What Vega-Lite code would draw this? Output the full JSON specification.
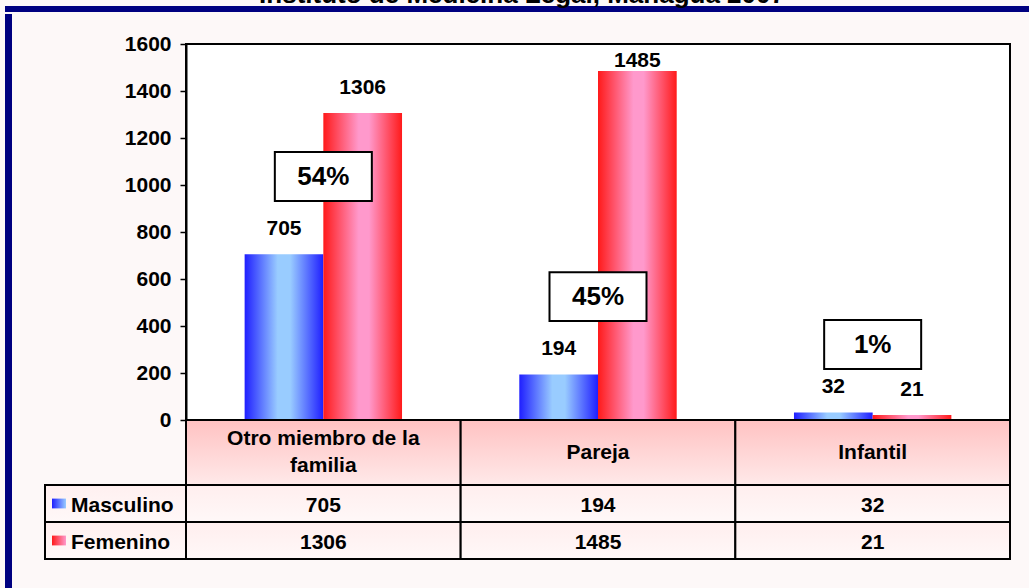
{
  "$schema": "https://vega.github.io/schema/vega-lite/v6.json",
  "background": "#fdf8f8",
  "padding": {"left": 5, "top": -18, "right": 0, "bottom": 0},
  "title": {"text": "Instituto de Medicina Legal, Managua 2007", "fontSize": 26, "fontWeight": "bold", "font": "Liberation Sans", "color": "black", "anchor": "middle", "frame": "bounds", "dx": 5, "offset": -5},
  "config": {"view": {"stroke": null}, "font": "Liberation Sans"},
  "datasets": {
    "datos": [
      {"categoria": "Otro miembro de la familia", "sexo": "Masculino", "valor": 705},
      {"categoria": "Otro miembro de la familia", "sexo": "Femenino", "valor": 1306},
      {"categoria": "Pareja", "sexo": "Masculino", "valor": 194},
      {"categoria": "Pareja", "sexo": "Femenino", "valor": 1485},
      {"categoria": "Infantil", "sexo": "Masculino", "valor": 32},
      {"categoria": "Infantil", "sexo": "Femenino", "valor": 21}
    ],
    "encabezados": [
      {"categoria": "Otro miembro de la familia", "encabezado": "Otro miembro de la\nfamilia", "lineas": 2},
      {"categoria": "Pareja", "encabezado": "Pareja", "lineas": 1},
      {"categoria": "Infantil", "encabezado": "Infantil", "lineas": 1}
    ],
    "porcentajes": [
      {"categoria": "Otro miembro de la familia", "pct": "54%", "nivel": 1036},
      {"categoria": "Pareja", "pct": "45%", "nivel": 525},
      {"categoria": "Infantil", "pct": "1%", "nivel": 321}
    ],
    "filas": [{"sexo": "Masculino"}, {"sexo": "Femenino"}],
    "vacio": [{}]
  },
  "spacing": 0,
  "vconcat": [
    {"width": 1024, "height": 6, "data": {"name": "vacio"}, "mark": {"type": "text", "text": ""}, "view": {"fill": "#000080"}},
    {
      "spacing": 32,
      "hconcat": [
        {"width": 7, "height": 574, "data": {"name": "vacio"}, "mark": {"type": "text", "text": ""}, "view": {"fill": "#000080"}},
        {
          "columns": 2,
          "spacing": 0,
          "bounds": "flush",
          "align": "each",
          "concat": [
            {"width": 141, "height": 30, "data": {"name": "vacio"}, "mark": {"type": "text", "text": ""}},
            {"width": 824, "height": 30, "data": {"name": "vacio"}, "mark": {"type": "text", "text": ""}},
            {"width": 141, "height": 376, "data": {"name": "vacio"}, "mark": {"type": "text", "text": ""}},
            {
              "width": 824,
              "height": 376,
              "data": {"name": "datos"},
              "view": {"fill": "white", "stroke": "black", "strokeWidth": 2},
              "encoding": {
                "x": {"field": "categoria", "type": "nominal", "scale": {"domain": ["Otro miembro de la familia", "Pareja", "Infantil"], "paddingInner": 0, "paddingOuter": 0}, "axis": null},
                "y": {"field": "valor", "type": "quantitative", "scale": {"domain": [0, 1600], "nice": false},
                  "axis": {"values": [0, 200, 400, 600, 800, 1000, 1200, 1400, 1600], "format": "d", "title": null, "grid": false, "domainColor": "black", "domainWidth": 2, "tickColor": "black", "tickSize": 6, "tickWidth": 1.5, "labelFontSize": 21, "labelFontWeight": "bold", "labelColor": "black", "labelPadding": 9}}
              },
              "layer": [
                {
                  "transform": [{"filter": "datum.sexo === 'Masculino'"}],
                  "mark": {"type": "bar", "fill": {"gradient": "linear", "x1": 0, "y1": 0, "x2": 1, "y2": 0, "stops": [{"offset": 0, "color": "#1f1fff"}, {"offset": 0.42, "color": "#99ccff"}, {"offset": 0.58, "color": "#99ccff"}, {"offset": 1, "color": "#1f1fff"}]}},
                  "encoding": {"xOffset": {"field": "sexo", "type": "nominal", "scale": {"domain": ["Masculino", "Femenino"], "paddingInner": 0, "paddingOuter": 0.745}}}
                },
                {
                  "transform": [{"filter": "datum.sexo === 'Femenino'"}],
                  "mark": {"type": "bar", "fill": {"gradient": "linear", "x1": 0, "y1": 0, "x2": 1, "y2": 0, "stops": [{"offset": 0, "color": "#ff1a1a"}, {"offset": 0.45, "color": "#ff99cc"}, {"offset": 0.58, "color": "#ff99cc"}, {"offset": 1, "color": "#ff1a1a"}]}},
                  "encoding": {"xOffset": {"field": "sexo", "type": "nominal", "scale": {"domain": ["Masculino", "Femenino"], "paddingInner": 0, "paddingOuter": 0.745}}}
                },
                {
                  "transform": [{"filter": "datum.valor < 1400"}],
                  "mark": {"type": "text", "dy": -25, "fontSize": 21, "fontWeight": "bold", "baseline": "middle", "color": "black"},
                  "encoding": {"xOffset": {"field": "sexo", "type": "nominal", "scale": {"domain": ["Masculino", "Femenino"], "paddingInner": 0, "paddingOuter": 0.745}}, "text": {"field": "valor", "type": "quantitative", "format": "d"}}
                },
                {
                  "transform": [{"filter": "datum.valor >= 1400"}],
                  "mark": {"type": "text", "dy": -10, "fontSize": 21, "fontWeight": "bold", "baseline": "middle", "color": "black"},
                  "encoding": {"xOffset": {"field": "sexo", "type": "nominal", "scale": {"domain": ["Masculino", "Femenino"], "paddingInner": 0, "paddingOuter": 0.745}}, "text": {"field": "valor", "type": "quantitative", "format": "d"}}
                },
                {
                  "data": {"name": "porcentajes"},
                  "mark": {"type": "point", "shape": "M-1,-0.505H1V0.505H-1Z", "size": 9409, "filled": true, "fill": "white", "stroke": "black", "strokeWidth": 2, "opacity": 1},
                  "encoding": {"y": {"field": "nivel", "type": "quantitative"}}
                },
                {
                  "data": {"name": "porcentajes"},
                  "mark": {"type": "text", "fontSize": 26, "fontWeight": "bold", "baseline": "middle", "color": "black"},
                  "encoding": {"y": {"field": "nivel", "type": "quantitative"}, "text": {"field": "pct", "type": "nominal"}}
                }
              ]
            },
            {"width": 141, "height": 65, "data": {"name": "vacio"}, "mark": {"type": "text", "text": ""}},
            {
              "width": 824,
              "height": 65,
              "data": {"name": "encabezados"},
              "encoding": {"x": {"field": "categoria", "type": "nominal", "scale": {"domain": ["Otro miembro de la familia", "Pareja", "Infantil"], "paddingInner": 0, "paddingOuter": 0}, "axis": null}},
              "layer": [
                {"mark": {"type": "rect", "fill": {"gradient": "linear", "x1": 0, "y1": 0, "x2": 0, "y2": 1, "stops": [{"offset": 0, "color": "#ffc2c2"}, {"offset": 1, "color": "#ffe9e9"}]}, "stroke": "black", "strokeWidth": 2}},
                {"transform": [{"filter": "datum.lineas === 1"}], "mark": {"type": "text", "fontSize": 21, "fontWeight": "bold", "baseline": "middle", "color": "black"}, "encoding": {"text": {"field": "encabezado", "type": "nominal"}}},
                {"transform": [{"filter": "datum.lineas === 2"}], "mark": {"type": "text", "fontSize": 21, "fontWeight": "bold", "lineBreak": "\n", "lineHeight": 27, "baseline": "middle", "dy": -13.5, "color": "black"}, "encoding": {"text": {"field": "encabezado", "type": "nominal"}}}
              ]
            },
            {
              "width": 141,
              "height": 74,
              "data": {"name": "filas"},
              "encoding": {"y": {"field": "sexo", "type": "nominal", "scale": {"domain": ["Masculino", "Femenino"], "paddingInner": 0, "paddingOuter": 0}, "axis": null}},
              "layer": [
                {"mark": {"type": "rect", "fill": {"gradient": "linear", "x1": 0, "y1": 0, "x2": 0, "y2": 1, "stops": [{"offset": 0, "color": "#fff0f0"}, {"offset": 1, "color": "#fff8f8"}]}, "stroke": "black", "strokeWidth": 2}},
                {"transform": [{"filter": "datum.sexo === 'Masculino'"}], "mark": {"type": "point", "shape": "M-1,-0.7H1V0.7H-1Z", "size": 196, "filled": true, "opacity": 1, "xOffset": -56.5, "fill": {"gradient": "linear", "x1": 0, "y1": 0, "x2": 1, "y2": 0, "stops": [{"offset": 0, "color": "#1f1fff"}, {"offset": 1, "color": "#99ccff"}]}}},
                {"transform": [{"filter": "datum.sexo === 'Femenino'"}], "mark": {"type": "point", "shape": "M-1,-0.7H1V0.7H-1Z", "size": 196, "filled": true, "opacity": 1, "xOffset": -56.5, "fill": {"gradient": "linear", "x1": 0, "y1": 0, "x2": 1, "y2": 0, "stops": [{"offset": 0, "color": "#ff1a1a"}, {"offset": 1, "color": "#ff99cc"}]}}},
                {"mark": {"type": "text", "align": "left", "dx": -44.5, "dy": 2, "fontSize": 21, "fontWeight": "bold", "baseline": "middle", "color": "black"}, "encoding": {"text": {"field": "sexo", "type": "nominal"}}}
              ]
            },
            {
              "width": 824,
              "height": 74,
              "data": {"name": "datos"},
              "encoding": {
                "x": {"field": "categoria", "type": "nominal", "scale": {"domain": ["Otro miembro de la familia", "Pareja", "Infantil"], "paddingInner": 0, "paddingOuter": 0}, "axis": null},
                "y": {"field": "sexo", "type": "nominal", "scale": {"domain": ["Masculino", "Femenino"], "paddingInner": 0, "paddingOuter": 0}, "axis": null}
              },
              "layer": [
                {"mark": {"type": "rect", "fill": {"gradient": "linear", "x1": 0, "y1": 0, "x2": 0, "y2": 1, "stops": [{"offset": 0, "color": "#ffeeee"}, {"offset": 1, "color": "#fff8f8"}]}, "stroke": "black", "strokeWidth": 2}},
                {"mark": {"type": "text", "fontSize": 21, "fontWeight": "bold", "baseline": "middle", "dy": 2, "color": "black"}, "encoding": {"text": {"field": "valor", "type": "quantitative", "format": "d"}}}
              ]
            }
          ]
        }
      ]
    }
  ]
}
